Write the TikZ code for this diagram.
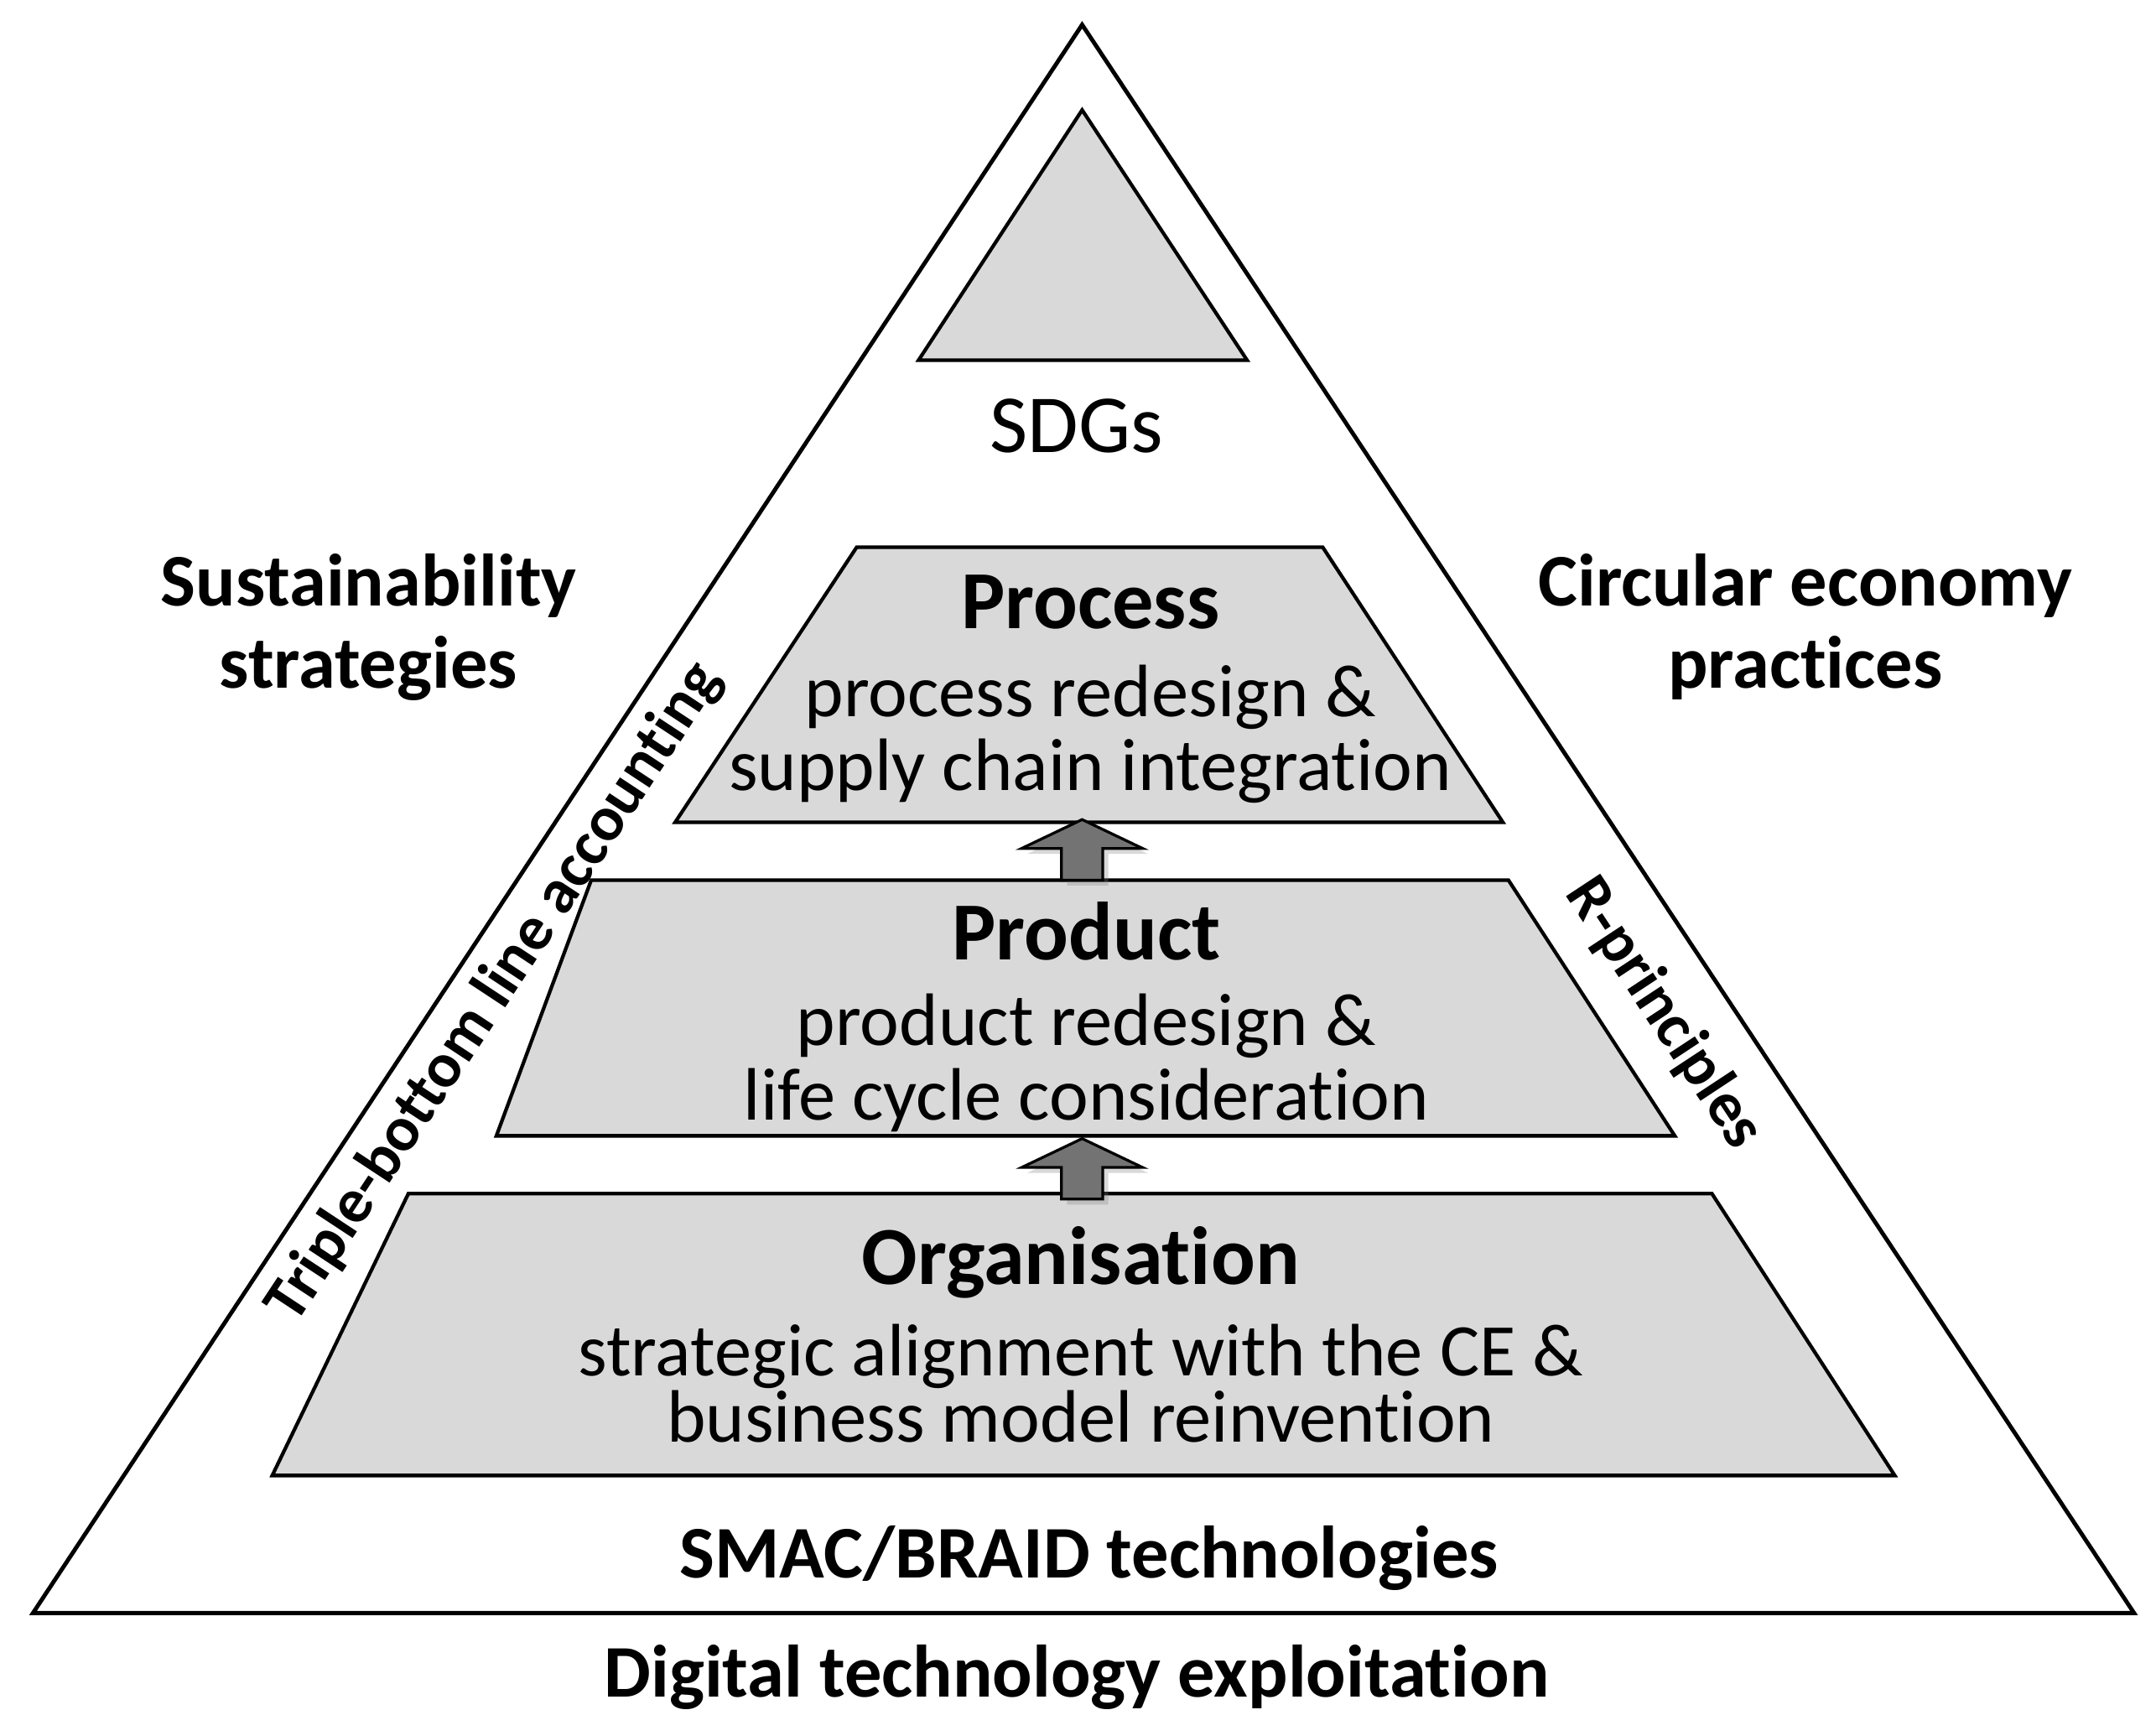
\documentclass[tikz,border=0pt]{standalone}
\usepackage{fontspec}
\setmainfont[Ligatures=NoCommon]{Carlito}
\usetikzlibrary{shadows}
\begin{document}
\begin{tikzpicture}[x=0.5pt,y=-0.5pt,
  tier/.style={draw=black,line width=1.3pt,fill=gray!30},
  bodytxt/.style={font=\fontsize{27}{27}\selectfont,align=center,inner sep=0},
  headtxt/.style={font=\fontsize{30}{30}\selectfont\bfseries,inner sep=0},
  boldtxt/.style={font=\fontsize{27}{30}\selectfont\bfseries,align=center,inner sep=0},
  uparrow/.style={draw=black,line width=1pt,fill=gray!110,drop shadow={shadow xshift=2pt,shadow yshift=-2pt,opacity=0.3}}]
\useasboundingbox (0,0) rectangle (1568,1262);
\draw[line width=1.5pt] (787,18) -- (1552,1173) -- (24,1173) -- cycle;
\draw[tier] (787,80) -- (907,262) -- (668,262) -- cycle;
\node[font=\fontsize{30}{30}\selectfont,inner sep=0] (sdg) at (783,310) {SDGs};
\draw[tier] (623,398) -- (962,398) -- (1093,598) -- (491,598) -- cycle;
\draw[tier] (430,640) -- (1097,640) -- (1218,826) -- (361,826) -- cycle;
\draw[tier] (297,868) -- (1245,868) -- (1378,1073) -- (198,1073) -- cycle;
\draw[uparrow] (772,640) -- (772,617) -- (743,617) -- (787,596) -- (831,617) -- (802,617) -- (802,640) -- cycle;
\draw[uparrow] (772,872) -- (772,849) -- (743,849) -- (787,828) -- (831,849) -- (802,849) -- (802,872) -- cycle;
\node[headtxt] (proc) at (793,438) {Process};
\node[bodytxt] (procb) at (793,534) {process redesign \&\\supply chain integration};
\node[headtxt] (prod) at (790,677) {Product};
\node[bodytxt] (prodb) at (790,773) {product redesign \&\\life cycle consideration};
\node[headtxt] (org) at (786,918) {Organisation};
\node[bodytxt,font=\fontsize{27}{24}\selectfont] (orgb) at (786,1006) {strategic alignment with the CE \&\\business model reinvention};
\node[boldtxt] (smac) at (792,1133) {SMAC/BRAID technologies};
\node[boldtxt] (dig) at (783,1220) {Digital technology exploitation};
\node[boldtxt] (sus) at (268,456) {Sustainability\\strategies};
\node[boldtxt] (circ) at (1313,456) {Circular economy\\practices};
\node[boldtxt,font=\fontsize{23}{25}\selectfont\bfseries,rotate=56.6] (tbl) at (360,722) {Triple-bottom line accounting};
\node[boldtxt,font=\fontsize{23}{25}\selectfont\bfseries,rotate=-56.6] (rp) at (1210,737) {R-principles};
\end{tikzpicture}
\end{document}
